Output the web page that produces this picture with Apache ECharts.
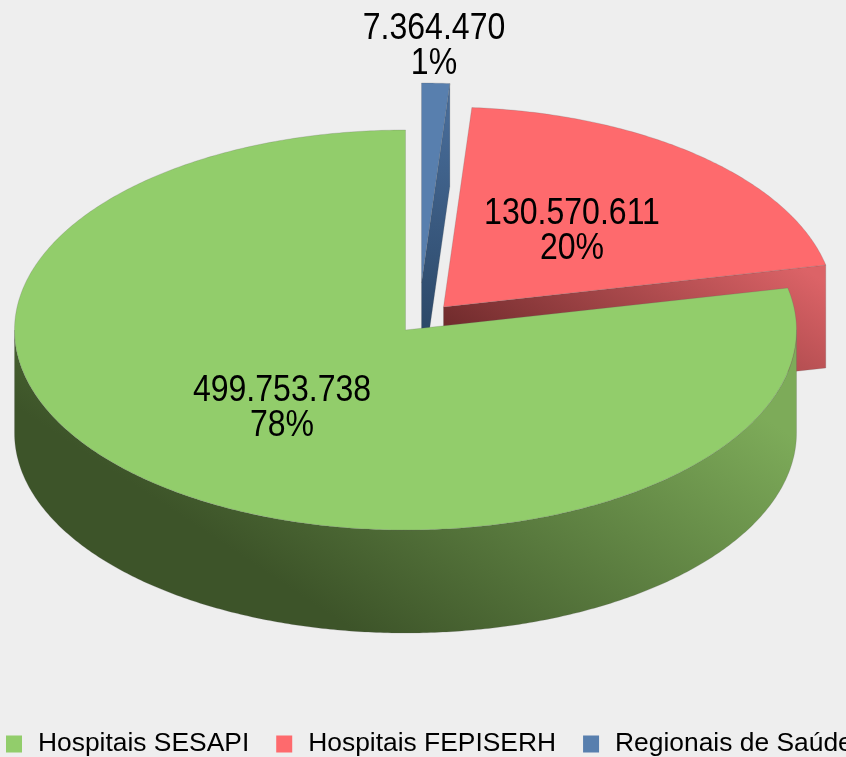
<!DOCTYPE html>
<html>
<head>
<meta charset="utf-8">
<style>html,body{margin:0;padding:0;background:#eeeeee}#c{width:846px;height:757px}</style>
<script src="https://cdn.jsdelivr.net/npm/echarts@6/dist/echarts.min.js"></script>
</head>
<body>
<div id="c"></div>
<script>
const categories = ['Hospitais SESAPI', 'Hospitais FEPISERH', 'Regionais de Saúde'];
const values = [499753738, 130570611, 7364470];

const colors = ['#92cd6b', '#fe6a6d', '#587fae'];
const explode = [[0, 0], [38, -23], [16, -47]];
const labelAt = [[282, 391], [572, 214], [434, 29]];
const pie = { cx: 405.5, cy: 330, rx: 391, ry: 200, depth: 103 };
const edge = 'rgba(90,90,90,0.35)';
const font = { size: 36, scaleX: 0.89, lineGap: 35 };

const total = values.reduce((a, b) => a + b, 0);
// Slices run clockwise from 12 o'clock, last category first.
const spans = [];
let run = 0;
for (let i = values.length - 1; i >= 0; i--) {
  const sweep = values[i] / total * Math.PI * 2;
  spans[i] = [run, run + sweep];
  run += sweep;
}
function dotted(v) { return String(v).replace(/\B(?=(\d{3})+(?!\d))/g, '.'); }
function pt(i, a, drop) {
  return [pie.cx + explode[i][0] + pie.rx * Math.sin(a),
          pie.cy + explode[i][1] - pie.ry * Math.cos(a) + (drop || 0)];
}
function arc(i, a0, a1, drop) {
  const n = Math.max(2, Math.ceil(Math.abs(a1 - a0) / 0.01));
  const out = [];
  for (let k = 0; k <= n; k++) out.push(pt(i, a0 + (a1 - a0) * k / n, drop));
  return out;
}
function grad(x, y, x2, y2, c0, c1) {
  return { type: 'linear', global: true, x, y, x2, y2,
           colorStops: [{ offset: 0, color: c0 }, { offset: 1, color: c1 }] };
}
function textEl(str, x, y) {
  return { type: 'text', x, y, scaleX: font.scaleX, silent: true,
           style: { text: str, fill: '#000', fontFamily: 'Liberation Sans', fontSize: font.size,
                    align: 'center', verticalAlign: 'middle' } };
}
const wallFill = [
  grad(217, 540, 440, 203, '#3d5429', '#7dab59'),
  grad(443, 340, 586, 124, '#6a2829', '#dc6367'),
  grad(421, 120, 421, 330, '#466a96', '#2c4868')
];
function renderSlice(i) {
  return function () {
    const kids = [];
    const s = spans[i];
    const tip = [pie.cx + explode[i][0], pie.cy + explode[i][1]];
    // radial wall on the clockwise cut when it faces the viewer
    if (i !== 0) {
      const out = pt(i, s[1], 0);
      kids.push({ type: 'polygon', silent: true,
        shape: { points: [tip, out, [out[0], out[1] + pie.depth], [tip[0], tip[1] + pie.depth]] },
        style: { fill: wallFill[i], stroke: edge, lineWidth: 0.6 } });
    }
    // outer rim, visible part only
    const w0 = Math.max(s[0], Math.PI / 2), w1 = Math.min(s[1], Math.PI * 1.5);
    if (w1 > w0) {
      kids.push({ type: 'polygon', silent: true,
        shape: { points: arc(i, w0, w1, 0).concat(arc(i, w1, w0, pie.depth)) },
        style: { fill: wallFill[i], stroke: edge, lineWidth: 0.6 } });
    }
    // top face
    kids.push({ type: 'polygon', silent: true,
      shape: { points: [tip].concat(arc(i, s[0], s[1], 0)) },
      style: { fill: colors[i], stroke: edge, lineWidth: 0.6 } });
    const pct = Math.round(values[i] / total * 100) + '%';
    kids.push(textEl(dotted(values[i]), labelAt[i][0], labelAt[i][1]));
    kids.push(textEl(pct, labelAt[i][0], labelAt[i][1] + font.lineGap));
    return { type: 'group', children: kids };
  };
}
const chart = echarts.init(document.getElementById('c'), null, { renderer: 'canvas' });
chart.setOption({
  backgroundColor: '#eeeeee',
  animation: false,
  legend: {
    data: categories, left: 6, top: 731, width: 900, itemWidth: 16, itemHeight: 17, itemGap: 27, padding: 0,
    icon: 'rect', selectedMode: false,
    textStyle: { color: '#000', fontFamily: 'Liberation Sans', fontSize: 26.4, padding: [0, 0, 0, 11] }
  },
  series: categories.map((name, i) => ({
    type: 'custom', name, coordinateSystem: 'none', z: 5 - i + (i === 0 ? 3 : 0),
    itemStyle: { color: colors[i] },
    data: [[values[i]]],
    renderItem: renderSlice(i)
  }))
});
</script>
</body>
</html>
